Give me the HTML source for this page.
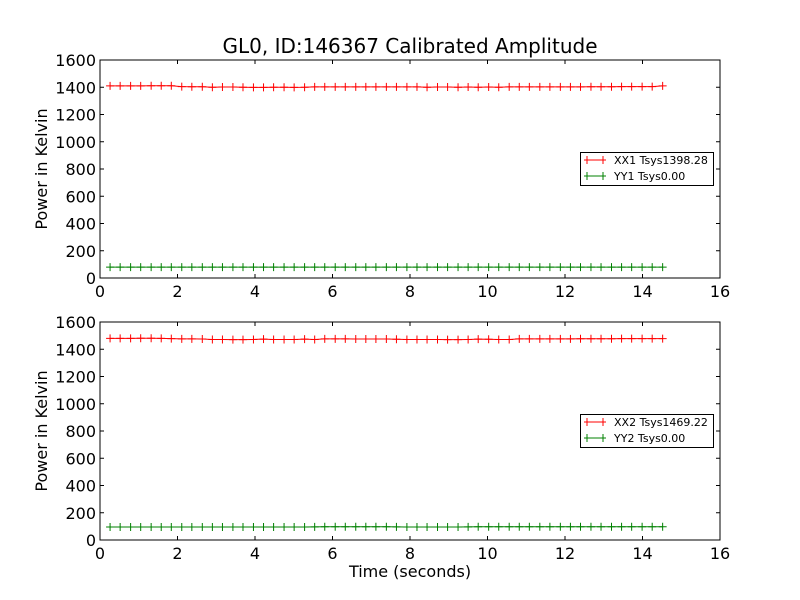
<!DOCTYPE html>
<html><head><meta charset="utf-8"><style>
body{margin:0;background:#fff}
svg{display:block;font-family:"DejaVu Sans","Liberation Sans",sans-serif}
</style></head><body>
<svg id="chart" width="800" height="600"></svg>
<script>
const times=[0.26,0.52,0.79,1.05,1.32,1.58,1.84,2.11,2.37,2.64,2.90,3.16,3.43,3.69,3.96,4.22,4.48,4.75,5.01,5.28,5.54,5.80,6.07,6.33,6.60,6.86,7.12,7.39,7.65,7.92,8.18,8.44,8.71,8.97,9.24,9.50,9.76,10.03,10.29,10.56,10.82,11.08,11.35,11.61,11.88,12.14,12.40,12.67,12.93,13.20,13.46,13.72,13.99,14.25,14.52];
const xx1=[1410,1410,1410,1410,1411,1411,1411,1405,1404,1404,1400,1402,1402,1400,1399,1399,1400,1400,1399,1400,1403,1403,1403,1403,1403,1403,1403,1403,1403,1403,1403,1400,1402,1402,1400,1402,1400,1402,1400,1403,1403,1403,1403,1403,1403,1403,1403,1404,1404,1404,1405,1405,1405,1405,1410];
const yy1=[80,80,80,80,80,80,80,80,80,80,80,80,80,80,80,80,80,80,80,80,80,80,80,80,80,80,80,80,80,80,80,80,80,80,80,80,80,80,80,80,80,80,80,80,80,80,80,80,80,80,80,80,80,80,80];
const xx2=[1480,1480,1480,1481,1481,1480,1478,1476,1476,1475,1472,1472,1471,1471,1472,1474,1472,1472,1472,1474,1472,1476,1476,1476,1475,1475,1475,1475,1473,1472,1472,1472,1472,1471,1471,1472,1474,1473,1472,1472,1476,1476,1476,1476,1476,1476,1477,1477,1477,1477,1478,1478,1478,1478,1478];
const yy2=[95,95,95,95,95,95,95,95,95,95,95,95,95,95,95,95,95,95,95,95,96,97,97,97,97,97,97,97,96,95,95,95,95,95,95,96,97,97,97,97,97,97,97,97,97,97,97,97,97,97,97,97,97,97,97];
const xTicks=[0,2,4,6,8,10,12,14,16];
const yTicks=[0,200,400,600,800,1000,1200,1400,1600];
const NS="http://www.w3.org/2000/svg";
const svg=document.getElementById('chart');
function mk(tag,attrs,parent){const e=document.createElementNS(NS,tag);for(const k in attrs)e.setAttribute(k,attrs[k]);(parent||svg).appendChild(e);return e;}
const L=100,R=720;
function panel(top,bot,red,green,redLabel,greenLabel,idx,legTop){
  const xs=v=>L+(v/16)*(R-L);
  const ys=v=>bot-(v/1600)*(bot-top);
  const g=mk('g',{});
  
  
  const frame=mk('rect',{x:L,y:top,width:R-L,height:bot-top,fill:'#fff',stroke:'#000','stroke-width':1},g);
  
  
  xTicks.forEach(t=>{const x=xs(t);
    mk('line',{x1:x,y1:bot,x2:x,y2:bot-4,stroke:'#000'},g);
    mk('line',{x1:x,y1:top,x2:x,y2:top+4,stroke:'#000'},g);
    const tx=mk('text',{x:x,y:bot+19,'font-size':16,'text-anchor':'middle'},g);tx.textContent=t;
    
    
  });
  yTicks.forEach(t=>{const y=ys(t);
    mk('line',{x1:L,y1:y,x2:L+4,y2:y,stroke:'#000'},g);
    mk('line',{x1:R,y1:y,x2:R-4,y2:y,stroke:'#000'},g);
    const tx=mk('text',{x:L-4,y:y+6,'font-size':16,'text-anchor':'end'},g);tx.textContent=t;
    
    
  });
  const yl=mk('text',{x:0,y:0,'font-size':16,'text-anchor':'middle',transform:`translate(47,${(top+bot)/2}) rotate(-90)`},g);
  yl.textContent='Power in Kelvin';
  
  
  [[red,'#ff0000','xx'],[green,'#008000','yy']].forEach(([vals,col,nm])=>{
    const pts=times.map((t,i)=>xs(t)+','+ys(vals[i])).join(' ');
    const pl=mk('polyline',{points:pts,fill:'none',stroke:col,'stroke-width':1},g);
    
    
    times.forEach((t,i)=>{const x=xs(t),y=ys(vals[i]);
      const m=mk('path',{d:`M${x-4},${y}H${x+4}M${x},${y-4}V${y+4}`,stroke:col,'stroke-width':1},g);
      
      
    });
  });
  const lg=mk('g',{},g);
  
  
  mk('rect',{x:580.5,y:legTop+0.5,width:133,height:33,fill:'#fff',stroke:'#000'},lg);
  [[redLabel,'#ff0000',legTop+8],[greenLabel,'#008000',legTop+24]].forEach(([lab,col,y])=>{
    mk('line',{x1:584,y1:y,x2:606,y2:y,stroke:col},lg);
    mk('path',{d:`M587,${y-4}V${y+4}M603,${y-4}V${y+4}`,stroke:col},lg);
    const tx=mk('text',{x:614,y:y+4,'font-size':11},lg);tx.textContent=lab;
    
    
  });
}
const title=mk('text',{x:410,y:53,'font-size':20,'text-anchor':'middle'});
title.textContent='GL0, ID:146367 Calibrated Amplitude';


panel(60,278,xx1,yy1,'XX1 Tsys1398.28','YY1 Tsys0.00',1,152);
panel(322,540,xx2,yy2,'XX2 Tsys1469.22','YY2 Tsys0.00',2,414);
const xt=mk('text',{x:410,y:577,'font-size':16,'text-anchor':'middle'});
xt.textContent='Time (seconds)';


</script>
</body></html>
